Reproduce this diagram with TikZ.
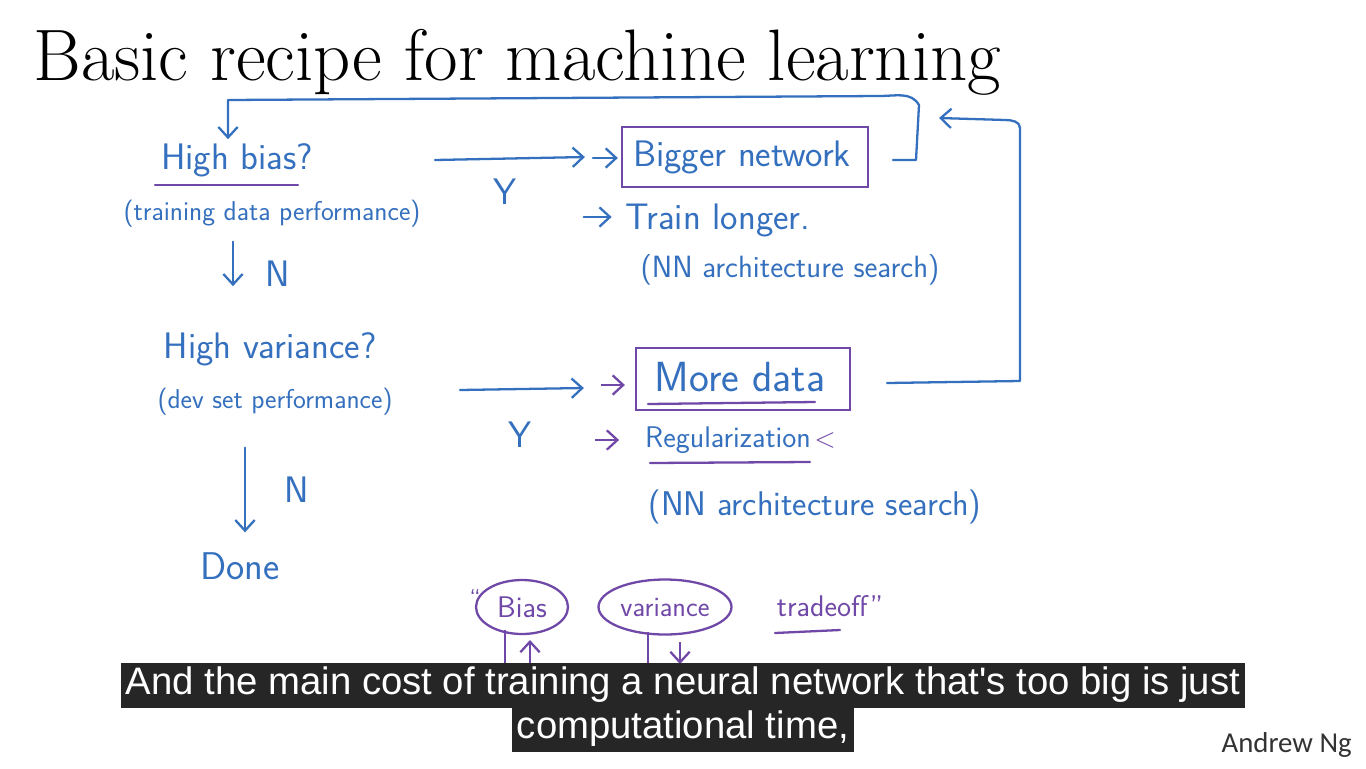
\documentclass[tikz,border=0pt]{standalone}
\usepackage{fontspec}
\newfontfamily\subfont{Liberation Sans}
\newfontfamily\sigfont{Carlito}
\usetikzlibrary{arrows.meta,calc,shapes.geometric}
\definecolor{hblue}{RGB}{52,112,190}
\definecolor{hpurp}{RGB}{112,72,168}
\definecolor{capbg}{RGB}{38,38,38}
\tikzset{
 hand/.style={draw=hblue, line width=1.3pt, line cap=round, line join=round},
 pline/.style={draw=hpurp, line width=1.3pt, line cap=round},
 htext/.style={text=hblue, font=\sffamily\fontsize{21}{24}\selectfont, inner sep=1pt},
 ptext/.style={text=hblue, font=\sffamily\fontsize{15.5}{18}\selectfont, inner sep=1pt},
 tipb/.style={-{Straight Barb[length=6pt,width=11pt]}},
 boxp/.style={draw=hpurp, line width=1.3pt, rectangle, inner sep=0pt},
 ellp/.style={draw=hpurp, line width=1.3pt, ellipse, inner sep=0pt, text=hpurp, font=\sffamily\fontsize{17}{19}\selectfont},
 caption/.style={fill=capbg, text=white, font=\subfont\fontsize{21.8}{25}\selectfont, inner xsep=3pt, inner ysep=0pt, minimum height=0.9cm},
}
\begin{document}
\begin{tikzpicture}[x=0.02cm,y=-0.02cm]
\useasboundingbox[fill=white] (0,0) rectangle (1366,768);

% title
\node[anchor=base west, inner sep=0pt, font=\fontsize{41.5}{46}\selectfont] (title) at (33,80) {Basic recipe for machine learning};

% left column
\node[htext] (hb) at (237,160) {High bias?};
\draw[pline] (155,185) -- (298,185);
\node[ptext] (hbp) at (272,214) {(training data performance)};
\node[htext] (n1) at (278,274) {N};
\node[htext] (hv) at (270,349) {High variance?};
\node[ptext] (hvp) at (275,402) {(dev set performance)};
\node[htext] (n2) at (297,490) {N};
\node[htext, font=\sffamily\fontsize{22}{24}\selectfont] (done) at (240,566) {Done};
\coordinate (c1) at (233,0);
\coordinate (c2) at (245,0);
\draw[hand,tipb] ($(hbp.south -| c1)+(0,12)$) -- ($(hv.north -| c1)+(0,-44)$);
\draw[hand,tipb] ($(hvp.south -| c2)+(0,30)$) -- ($(done.north -| c2)+(0,-18)$);

% right column, top
\node[boxp, minimum width=4.92cm, minimum height=1.2cm] (bn) at (745,157) {};
\node[htext] (bnt) at (742,157) {Bigger network};
\node[htext] (tl) at (718,220) {Train longer.};
\node[ptext, font=\sffamily\fontsize{17.5}{20}\selectfont] (nas1) at (790,270) {(NN architecture search)};
\coordinate (y1a) at (435,160);
\draw[hand,tipb] (y1a) -- ($(bn.west)+(-36,0)$);
\draw[hand,tipb] ($(bn.west)+(-28,1)$) -- ($(bn.west)+(-3,1)$);
\node[htext] (y1) at (505,192) {Y};
\draw[hand,tipb] ($(tl.west)+(-40,-3)$) -- ($(tl.west)+(-12,-3)$);

% right column, bottom
\node[boxp, minimum width=4.28cm, minimum height=1.24cm] (md) at (743,379) {};
\node[htext, font=\sffamily\fontsize{24}{26}\selectfont] (mdt) at (740,377) {More data};
\draw[pline] (648,404) -- (815,402);
\node[htext, font=\sffamily\fontsize{17}{20}\selectfont] (reg) at (728,440) {Regularization};
\draw[pline] (650,463) -- (810,462);
\node[text=hpurp, font=\sffamily\fontsize{16}{18}\selectfont, inner sep=0pt] (regmark) at (825,440) {<};
\node[ptext, font=\sffamily\fontsize{19.5}{22}\selectfont] (nas2) at (815,507) {(NN architecture search)};
\coordinate (y2a) at (460,390);
\draw[hand,tipb] (y2a) -- ($(md.west)+(-51,9)$);
\draw[draw=hpurp, line width=1.3pt, tipb] ($(md.west)+(-34,6)$) -- ($(md.west)+(-10,6)$);
\node[htext] (y2) at (520,435) {Y};
\draw[draw=hpurp, line width=1.3pt, tipb] ($(reg.west)+(-48,0)$) -- ($(reg.west)+(-24,0)$);

% feedback loops
\coordinate (loopj) at (919,118);
\draw[hand,tipb] ($(bn.east)+(24,3)$) -- (916,160) -- (919,105) to[out=120,in=0] (880,96) -- (228,100) -- ($(hb.north)+(-9,-2)$);
\draw[hand,tipb] ($(md.east)+(36,4)$) -- (1020,381) -- (1020,128) to[out=90,in=0] (1005,120) -- ($(loopj)+(20,0)$);

% bias / variance
\draw[draw=hpurp, line width=1.3pt] (505,630) -- (505,666);
\draw[draw=hpurp, line width=1.3pt, tipb] (530,666) -- (530,640);
\draw[draw=hpurp, line width=1.3pt] (648,632) -- (648,666);
\draw[draw=hpurp, line width=1.3pt, tipb] (680,642) -- (680,664);
\node[ellp, minimum width=1.84cm, minimum height=1.08cm] (bias) at (522,607) {Bias};
\node[ellp, minimum width=2.66cm, minimum height=1.1cm, font=\sffamily\fontsize{16}{18}\selectfont] (var) at (665,607) {variance};
\node[text=hpurp, font=\sffamily\fontsize{14}{16}\selectfont, inner sep=0pt] (q1) at (475,598) {``};
\node[text=hpurp, font=\sffamily\fontsize{17}{19}\selectfont, inner sep=1pt] (trade) at (830,606) {tradeoff''};
\draw[pline] (775,633) -- (840,630);

% captions
\node[caption] (cap1) at (683,685) {And the main cost of training a neural network that's too big is just};
\node[caption] (cap2) at (683,729) {computational time,};
\node[anchor=base east, inner sep=0pt, font=\sigfont\fontsize{16.4}{18}\selectfont, text=black!80] (sig) at (1352,752) {Andrew Ng};
\end{tikzpicture}
\end{document}
